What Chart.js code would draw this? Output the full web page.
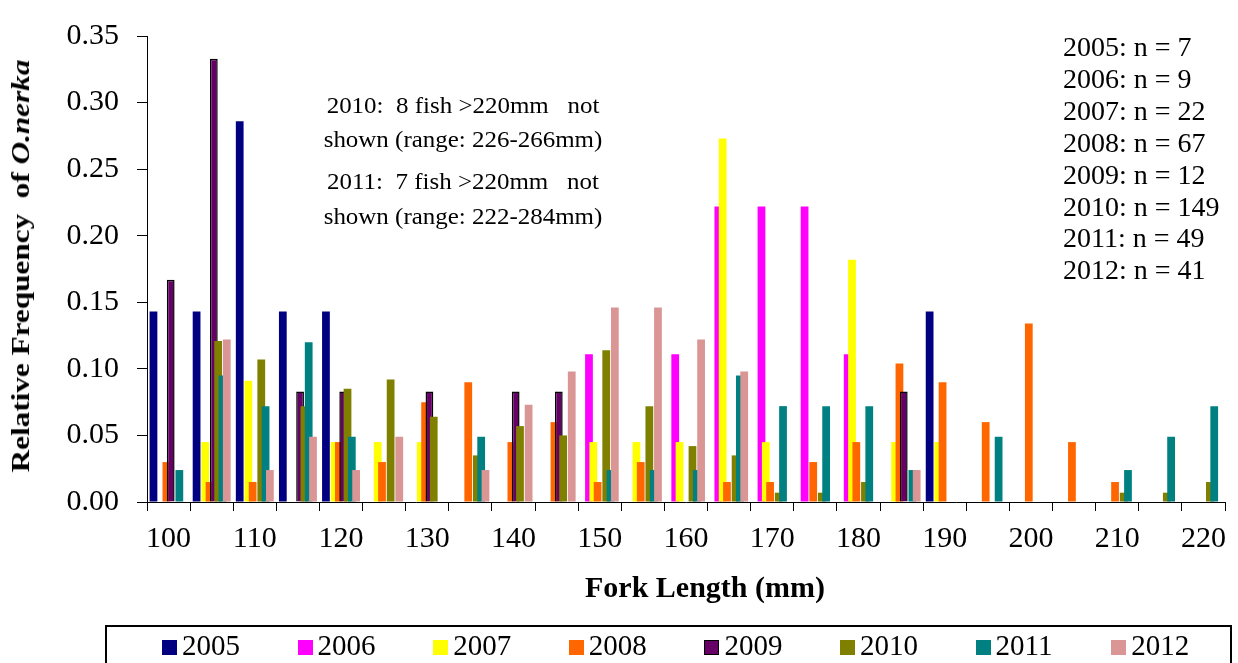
<!DOCTYPE html>
<html>
<head>
<meta charset="utf-8">
<script src="https://cdn.jsdelivr.net/npm/chart.js@4/dist/chart.umd.min.js"></script>
<style>
  body { margin: 0; background: #fff; }
  #wrap { position: relative; width: 1238px; height: 663px; overflow: hidden;
          font-family: 'Liberation Serif', 'Times New Roman', serif; color: #000; }
  #wrap .txt { position: absolute; white-space: pre; }
  #ytitle { left: 21px; top: 266px; font-size: 26px; line-height: 26px; font-weight: bold;
            transform: translate(-50%, -50%) rotate(-90deg) scaleX(1.2); }
  #xtitle { left: 705px; top: 572px; font-size: 30px; line-height: 30px; font-weight: bold;
            transform: translateX(-50%); }
  .note { left: 463px; font-size: 24px; line-height: 28px; transform: translateX(-50%) scaleX(1.04); }
  #counts { left: 1063px; top: 31px; font-size: 28px; line-height: 31.9px; }
  #legendBox { position: absolute; left: 105px; top: 625px; width: 1127px; height: 60px;
               border: 2px solid #000; box-sizing: border-box; }
  .item { position: absolute; top: 631px; font-size: 29px; line-height: 29px; white-space: pre; }
  .item span { display: inline-block; width: 15px; height: 15px; margin-right: 5px; box-sizing: border-box; }
</style>
</head>
<body>
<div id="wrap">
  <canvas id="chart" width="1238" height="663"></canvas>
  <div class="txt" id="ytitle">Relative Frequency  of <i>O.nerka</i></div>
  <div class="txt" id="xtitle">Fork Length (mm)</div>
  <div class="txt note" style="top:91px">2010:  8 fish &gt;220mm   not</div>
  <div class="txt note" style="top:125px">shown (range: 226-266mm)</div>
  <div class="txt note" style="top:167px">2011:  7 fish &gt;220mm   not</div>
  <div class="txt note" style="top:202px">shown (range: 222-284mm)</div>
  <div class="txt" id="counts"></div>
  <div id="legendBox"></div>
</div>
<script>
// fork length bins (mm), 5 mm wide
const lengths = ['100', '105', '110', '115', '120', '125', '130', '135', '140', '145', '150', '155', '160',
                 '165', '170', '175', '180', '185', '190', '195', '200', '205', '210', '215', '220'];

const years = ['2005', '2006', '2007', '2008', '2009', '2010', '2011', '2012'];
const sampleSizes = [7, 9, 22, 67, 12, 149, 49, 41];
const colors = ['#000080', '#FF00FF', '#FFFF00', '#FF6600', '#660066', '#808000', '#008080', '#D99694'];

const f2005 = [0.143, 0.143, 0.286, 0.143, 0.143, null, null, null, null, null, null, null, null,
               null, null, null, null, null, 0.143, null, null, null, null, null, null];
const f2006 = [null, null, null, null, null, null, null, null, null, null, 0.111, null, 0.111,
               0.222, 0.222, 0.222, 0.111, null, null, null, null, null, null, null, null];
const f2007 = [null, 0.045, 0.091, null, 0.045, 0.045, 0.045, null, null, null, 0.045, 0.045, 0.045,
               0.273, 0.045, null, 0.182, 0.045, 0.045, null, null, null, null, null, null];
const f2008 = [0.030, 0.015, 0.015, null, 0.045, 0.030, 0.075, 0.090, 0.045, 0.060, 0.015, 0.030, null,
               0.015, 0.015, 0.030, 0.045, 0.104, 0.090, 0.060, 0.134, 0.045, 0.015, null, null];
const f2009 = [0.167, 0.333, null, 0.083, 0.083, null, 0.083, null, 0.083, 0.083, null, null, null,
               null, null, null, null, 0.083, null, null, null, null, null, null, null];
const f2010 = [null, 0.121, 0.107, 0.072, 0.085, 0.092, 0.064, 0.035, 0.057, 0.050, 0.114, 0.072, 0.042,
               0.035, 0.007, 0.007, 0.015, null, null, null, null, null, 0.007, 0.007, 0.015];
const f2011 = [0.024, 0.095, 0.072, 0.120, 0.049, null, null, 0.049, null, null, 0.024, 0.024, 0.024,
               0.095, 0.072, 0.072, 0.072, 0.024, null, 0.049, null, null, 0.024, 0.049, 0.072];
const f2012 = [null, 0.122, 0.024, 0.049, 0.024, 0.049, null, 0.024, 0.073, 0.098, 0.146, 0.146, 0.122,
               0.098, null, null, null, 0.024, null, null, null, null, null, null, null];

const series = [f2005, f2006, f2007, f2008, f2009, f2010, f2011, f2012];
const FONT = 'Liberation Serif';

// sample size list, top right
document.getElementById('counts').innerText =
    years.map((y, i) => `${y}: n = ${sampleSizes[i]}`).join('\n');

// legend along the bottom
const wrap = document.getElementById('wrap');
years.forEach((y, i) => {
    const item = document.createElement('div');
    item.className = 'item';
    item.style.left = (162 + 135.6 * i) + 'px';
    const box = document.createElement('span');
    box.style.background = colors[i];
    if (i === 4) box.style.border = '1.5px solid #000';
    item.appendChild(box);
    item.appendChild(document.createTextNode(y));
    wrap.appendChild(item);
});

// excel draws later series over earlier ones when bars overlap
const drawInOrder = {
    id: 'drawInOrder',
    beforeDatasetsDraw(chart) {
        const a = chart.chartArea;
        const ctx = chart.ctx;
        ctx.save();
        ctx.beginPath();
        ctx.rect(a.left, a.top - 2, a.right - a.left, a.bottom - a.top + 2);
        ctx.clip();
        chart.getSortedVisibleDatasetMetas().forEach(meta => meta.controller.draw());
        ctx.restore();
        return false;
    }
};

new Chart(document.getElementById('chart'), {
    type: 'bar',
    data: {
        labels: lengths,
        datasets: years.map((y, i) => ({
            label: y,
            data: series[i],
            backgroundColor: colors[i],
            borderColor: i === 4 ? '#000' : colors[i],
            borderWidth: i === 4 ? 1.5 : 0,
            categoryPercentage: 0.8,
            barPercentage: 1.8
        }))
    },
    options: {
        responsive: false,
        animation: false,
        layout: { padding: { left: 0, right: 13, top: 24, bottom: 100 } },
        plugins: {
            legend: { display: false },
            tooltip: { enabled: false }
        },
        scales: {
            x: {
                grid: { offset: true, drawOnChartArea: false, color: '#000', tickLength: 9 },
                border: { color: '#000', width: 1 },
                ticks: {
                    autoSkip: false,
                    maxRotation: 0,
                    padding: 10,
                    color: '#000',
                    font: { family: FONT, size: 30 },
                    callback(value, index) {
                        return index % 2 === 0 ? this.getLabelForValue(value) : '';
                    }
                },
                afterFit(scale) { scale.height = 61; }
            },
            y: {
                min: 0,
                max: 0.35,
                grid: { drawOnChartArea: false, color: '#000', tickLength: 10 },
                border: { color: '#000', width: 1 },
                ticks: {
                    stepSize: 0.05,
                    padding: 18,
                    color: '#000',
                    font: { family: FONT, size: 30 },
                    callback: v => v.toFixed(2)
                },
                afterFit(scale) { scale.width = 147; }
            }
        }
    },
    plugins: [drawInOrder]
});
</script>
</body>
</html>
